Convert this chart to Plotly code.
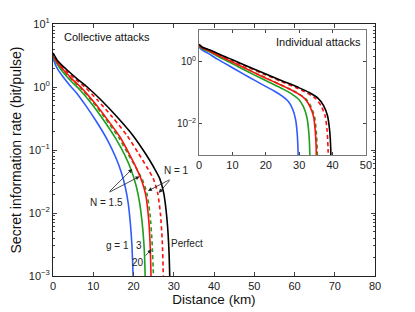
import plotly.graph_objects as go

# ---------- data (log10 of secret rate) ----------
# Main plot: collective attacks
main_black_x = [0, 1, 2, 3.5, 6, 8.5, 12, 16, 20, 23, 25, 26.5, 27.5, 28.2, 28.7, 29.0, 29.05]
main_black_l = [0.54, 0.43, 0.36, 0.27, 0.13, 0.0, -0.21, -0.48, -0.78, -1.06, -1.27, -1.45, -1.68, -2.02, -2.45, -3.0, -3.3]

main_reddash_x = [0, 0.9, 1.85, 3.2, 5.6, 7.9, 11.1, 14.8, 18.5, 21.3, 23.3, 24.9, 26.0, 26.7, 27.15, 27.4, 27.45]
main_reddash_l = [0.53, 0.42, 0.35, 0.26, 0.12, 0.0, -0.21, -0.48, -0.78, -1.06, -1.27, -1.45, -1.68, -2.02, -2.45, -3.0, -3.3]

main_greendash_x = [0, 0.82, 1.63, 2.85, 4.9, 6.9, 9.8, 13.0, 16.3, 18.8, 20.6, 22.2, 23.3, 24.1, 24.6, 24.95, 25.0]
main_greendash_l = [0.51, 0.40, 0.33, 0.24, 0.10, -0.02, -0.23, -0.50, -0.80, -1.08, -1.28, -1.47, -1.68, -2.02, -2.45, -3.0, -3.3]

main_red_x = [0, 0.83, 1.66, 2.9, 5.0, 7.0, 9.9, 13.2, 16.6, 19.0, 20.8, 22.1, 23.0, 23.7, 24.1, 24.35, 24.4]
main_red_l = [0.52, 0.41, 0.34, 0.25, 0.11, -0.01, -0.22, -0.49, -0.79, -1.07, -1.30, -1.50, -1.70, -2.05, -2.45, -3.0, -3.3]

main_green_x = [0, 0.8, 1.6, 2.7, 4.7, 6.6, 9.4, 12.5, 15.6, 17.9, 19.5, 20.7, 21.5, 22.1, 22.6, 22.9, 22.95]
main_green_l = [0.50, 0.39, 0.31, 0.22, 0.08, -0.04, -0.25, -0.52, -0.82, -1.09, -1.33, -1.58, -1.83, -2.12, -2.5, -3.0, -3.3]

main_blue_x = [0, 0.7, 1.4, 2.4, 4.1, 5.8, 8.2, 10.9, 13.6, 15.6, 17.0, 18.0, 18.7, 19.2, 19.6, 19.9, 19.95]
main_blue_l = [0.46, 0.34, 0.26, 0.17, 0.03, -0.09, -0.30, -0.56, -0.85, -1.12, -1.36, -1.6, -1.85, -2.15, -2.5, -3.0, -3.3]

# Inset: individual attacks
ins_black_x = [0, 1, 3.3, 7.3, 10, 15, 20, 25, 30, 33, 35.6, 37.3, 38.5, 39.1, 39.45, 39.5]
ins_black_l = [0.54, 0.45, 0.36, 0.17, 0.05, -0.18, -0.41, -0.63, -0.85, -1.00, -1.18, -1.42, -1.75, -2.2, -2.8, -3.3]

ins_reddash_x = [0, 0.98, 3.2, 7.2, 9.8, 14.7, 19.6, 24.5, 29.4, 32.3, 34.9, 36.6, 37.8, 38.35, 38.65, 38.7]
ins_reddash_l = [0.53, 0.44, 0.35, 0.16, 0.04, -0.19, -0.42, -0.64, -0.86, -1.01, -1.19, -1.43, -1.76, -2.21, -2.8, -3.3]

ins_greendash_x = [0, 0.9, 3.0, 6.55, 9.0, 13.5, 18.0, 22.4, 26.9, 29.6, 32.0, 33.5, 34.6, 35.1, 35.4, 35.45]
ins_greendash_l = [0.52, 0.43, 0.34, 0.15, 0.03, -0.20, -0.43, -0.65, -0.87, -1.02, -1.20, -1.44, -1.77, -2.22, -2.8, -3.3]

ins_red_x = [0, 0.89, 2.95, 6.5, 8.9, 13.4, 17.8, 22.3, 26.7, 29.4, 31.7, 33.2, 34.3, 34.8, 35.1, 35.15]
ins_red_l = [0.52, 0.43, 0.34, 0.15, 0.03, -0.20, -0.43, -0.65, -0.87, -1.02, -1.20, -1.44, -1.77, -2.22, -2.8, -3.3]

ins_green_x = [0, 0.84, 2.8, 6.1, 8.4, 12.6, 16.8, 21.0, 25.2, 27.7, 29.9, 31.3, 32.3, 32.85, 33.15, 33.2]
ins_green_l = [0.50, 0.41, 0.32, 0.13, 0.01, -0.22, -0.45, -0.67, -0.89, -1.04, -1.22, -1.46, -1.79, -2.24, -2.82, -3.3]

ins_blue_x = [0, 0.75, 2.5, 5.5, 7.5, 11.2, 15, 18.7, 22.5, 24.7, 26.7, 28.0, 28.9, 29.4, 29.65, 29.7]
ins_blue_l = [0.47, 0.37, 0.27, 0.07, -0.05, -0.28, -0.51, -0.73, -0.95, -1.10, -1.28, -1.52, -1.85, -2.3, -2.85, -3.3]

main_xticks = [0, 10, 20, 30, 40, 50, 60, 70, 80]
inset_xticks = [0, 10, 20, 30, 40, 50]
main_yticks = [1e-3, 1e-2, 1e-1, 1, 10]
main_yticklabels = ["10<sup>\u22123</sup>", "10<sup>\u22122</sup>", "10<sup>\u22121</sup>", "10<sup>0</sup>", "10<sup>1</sup>"]
inset_yticks = [1e-2, 1]
inset_yticklabels = ["10<sup>\u22122</sup>", "10<sup>0</sup>"]

BLUE = "#2f5bff"
GREEN = "#1f9e1f"
RED = "#ff1010"
BLACK = "#000000"
FONT = "Liberation Sans, Arial, sans-serif"

def pw(l):
    return [10 ** v for v in l]

fig = go.Figure()

main_series = [
    (main_blue_x, main_blue_l, BLUE, "solid"),
    (main_green_x, main_green_l, GREEN, "solid"),
    (main_greendash_x, main_greendash_l, GREEN, "4px,3px"),
    (main_red_x, main_red_l, RED, "solid"),
    (main_reddash_x, main_reddash_l, RED, "4px,3px"),
    (main_black_x, main_black_l, BLACK, "solid"),
]
for xs, ls, c, d in main_series:
    fig.add_trace(go.Scatter(x=xs, y=pw(ls), mode="lines", line=dict(color=c, width=1.6, dash=d, shape="spline", smoothing=0.6),
                             xaxis="x", yaxis="y", showlegend=False, hoverinfo="skip"))

ins_series = [
    (ins_blue_x, ins_blue_l, BLUE, "solid"),
    (ins_green_x, ins_green_l, GREEN, "solid"),
    (ins_greendash_x, ins_greendash_l, GREEN, "4px,3px"),
    (ins_red_x, ins_red_l, RED, "solid"),
    (ins_reddash_x, ins_reddash_l, RED, "4px,3px"),
    (ins_black_x, ins_black_l, BLACK, "solid"),
]
for xs, ls, c, d in ins_series:
    fig.add_trace(go.Scatter(x=xs, y=pw(ls), mode="lines", line=dict(color=c, width=1.6, dash=d, shape="spline", smoothing=0.6),
                             xaxis="x2", yaxis="y2", showlegend=False, hoverinfo="skip"))

tickfont = dict(family=FONT, size=11, color="#222")

fig.update_layout(
    width=415, height=312,
    margin=dict(l=53, r=40, t=24, b=36),
    paper_bgcolor="white", plot_bgcolor="white",
    font=dict(family=FONT, size=11, color="#222"),
    xaxis=dict(domain=[0, 1], range=[0, 80], tickvals=main_xticks, ticks="inside", ticklen=4, automargin=False,
               showline=True, linecolor="#222", linewidth=1, mirror="allticks", showgrid=False, zeroline=False,
               tickfont=tickfont,
               title=dict(text="Distance (km)", font=dict(family=FONT, size=13.5, color="#111"), standoff=2)),
    yaxis=dict(domain=[0, 1], type="log", range=[-3, 1], tickvals=main_yticks, ticktext=main_yticklabels,
               ticks="inside", ticklen=4, automargin=False,
               showline=True, linecolor="#222", linewidth=1, mirror="allticks", showgrid=False, zeroline=False,
               tickfont=tickfont,
               minor=dict(ticks="inside", ticklen=2, tickcolor="#444", showgrid=False, dtick="D1"),
               title=dict(text="Secret information rate (bit/pulse)", font=dict(family=FONT, size=14, color="#111"), standoff=3)),
    xaxis2=dict(domain=[0.4534, 0.972], anchor="y2", range=[0, 50], tickvals=inset_xticks, ticks="inside", ticklen=3,
                showline=True, linecolor="#777", linewidth=1, mirror="allticks", showgrid=False, zeroline=False,
                automargin=False, tickfont=tickfont),
    yaxis2=dict(domain=[0.48, 0.976], anchor="x2", type="log", range=[-3, 1], tickvals=inset_yticks, ticktext=inset_yticklabels,
                ticks="inside", ticklen=3, showline=True, linecolor="#777", linewidth=1, mirror="allticks",
                showgrid=False, zeroline=False, automargin=False, tickfont=dict(family=FONT, size=10, color="#222")),
)

afont = dict(family=FONT, size=10, color="#222")
ann = []
ann.append(dict(xref="paper", yref="paper", x=0.168, y=0.948, xanchor="center", yanchor="middle",
                text="Collective attacks", showarrow=False, font=dict(family=FONT, size=11, color="#111")))
ann.append(dict(xref="paper", yref="paper", x=0.826, y=0.929, xanchor="center", yanchor="middle",
                text="Individual attacks", showarrow=False, font=dict(family=FONT, size=11, color="#111")))
ann.append(dict(xref="x", yref="y", x=13.2, y=-1.83, text="N = 1.5", showarrow=False, font=afont))
ann.append(dict(xref="x", yref="y", x=30.8, y=-1.33, text="N = 1", showarrow=False, font=afont))
ann.append(dict(xref="x", yref="y", x=15.9, y=-2.51, text="g = 1", showarrow=False, font=afont))
ann.append(dict(xref="x", yref="y", x=21.4, y=-2.51, text="3", showarrow=False, font=afont))
ann.append(dict(xref="x", yref="y", x=21.1, y=-2.78, text="20", showarrow=False, font=afont))
ann.append(dict(xref="x", yref="y", x=33.3, y=-2.49, text="Perfect", showarrow=False, font=afont))

arrows = [
    ((13.7, -1.68), (19.7, -1.30)),
    ((13.7, -1.68), (21.5, -1.42)),
    ((29.3, -1.46), (23.6, -1.65)),
    ((29.3, -1.46), (26.3, -1.68)),
    ((22.6, -2.70), (24.5, -2.58)),
]
for (tx, ty), (hx, hy) in arrows:
    ann.append(dict(xref="x", yref="y", axref="x", ayref="y", x=hx, y=hy, ax=tx, ay=ty, text="",
                    showarrow=True, arrowhead=2, arrowsize=1.0, arrowwidth=0.8, arrowcolor="#222", standoff=0))
fig.update_layout(annotations=ann)

fig.write_html("out.html", config={"displayModeBar": False},
               post_script="document.body.style.margin='0px';document.body.style.overflow='hidden';")
